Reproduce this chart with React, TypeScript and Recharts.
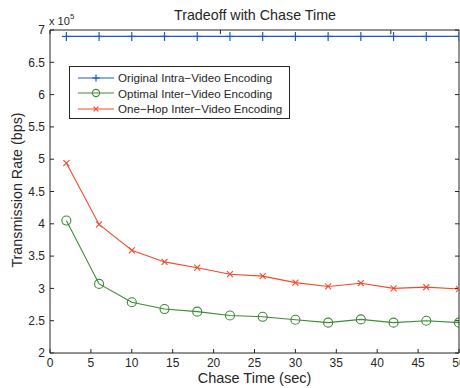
import { Label, Legend, Line, LineChart, XAxis, YAxis } from "recharts";

const chaseTimes = [2, 6, 10, 14, 18, 22, 26, 30, 34, 38, 42, 46, 50];
const intraRate = [690000, 690000, 690000, 690000, 690000, 690000, 690000, 690000, 690000, 690000, 690000, 690000, 690000];
const optimalRate = [405000, 307000, 278500, 268000, 264000, 258000, 256000, 251500, 247000, 252000, 247000, 250000, 247000];
const oneHopRate = [494000, 399000, 359000, 341000, 332000, 322000, 319000, 309000, 303000, 308000, 300000, 302000, 299000];

const xTicks = [0, 5, 10, 15, 20, 25, 30, 35, 40, 45, 50];
const yTicks = [200000, 250000, 300000, 350000, 400000, 450000, 500000, 550000, 600000, 650000, 700000];

const series = [
  { key: "intra", name: "Original Intra\u2212Video Encoding", color: "#1c5cb4", marker: "plus" },
  { key: "optimal", name: "Optimal Inter\u2212Video Encoding", color: "#3f8a36", marker: "circle" },
  { key: "oneHop", name: "One\u2212Hop Inter\u2212Video Encoding", color: "#f24a2c", marker: "cross" },
];

const data = chaseTimes.map((t, i) => ({ t, intra: intraRate[i], optimal: optimalRate[i], oneHop: oneHopRate[i] }));

const font = "'Liberation Sans', Arial, Helvetica, sans-serif";
const ink = "#262626";

function Marker({ cx, cy, type, color, size = 1 }: { cx: number; cy: number; type: string; color: string; size?: number }) {
  if (type === "plus") {
    const h = 4.5 * size;
    return (
      <g stroke={color} strokeWidth={1.2}>
        <line x1={cx} y1={cy - h} x2={cx} y2={cy + h} />
        <line x1={cx - h} y1={cy} x2={cx + h} y2={cy} />
      </g>
    );
  }
  if (type === "circle") return <circle cx={cx} cy={cy} r={4.5 * size} fill="none" stroke={color} strokeWidth={1.1} />;
  const h = 3 * size;
  return (
    <g stroke={color} strokeWidth={1.1}>
      <line x1={cx - h} y1={cy - h} x2={cx + h} y2={cy + h} />
      <line x1={cx - h} y1={cy + h} x2={cx + h} y2={cy - h} />
    </g>
  );
}

function LegendBox() {
  return (
    <div style={{ border: `1px solid ${ink}`, background: "#fff", boxSizing: "border-box", width: 221, height: 53, padding: "3px 0 0 7px", fontFamily: font, fontSize: 11.6, color: ink, whiteSpace: "nowrap" }}>
      {series.map((s) => (
        <div key={s.key} style={{ display: "flex", alignItems: "center", height: 15.5 }}>
          <svg width={38} height={12} style={{ marginRight: 3, flex: "none" }}>
            <line x1={1} y1={6} x2={37} y2={6} stroke={s.color} strokeWidth={1.1} />
            <Marker cx={19} cy={6} type={s.marker} color={s.color} size={0.8} />
          </svg>
          <span>{s.name}</span>
        </div>
      ))}
    </div>
  );
}

const tickStyle = { fontSize: 12, fill: ink, fontFamily: font };

export default function App() {
  return (
    <div style={{ position: "absolute", left: 0, top: 0, width: 460, height: 388, background: "#fff" }}>
      <LineChart width={460} height={388} data={data} margin={{ top: 29, right: 0, bottom: 0, left: 0 }} style={{ fontFamily: font }}>
        <XAxis dataKey="t" type="number" domain={[0, 50]} ticks={xTicks} interval={0} height={35} tickSize={-4} tickMargin={9}
          stroke={ink} tick={tickStyle} allowDataOverflow>
          <Label position="insideBottom" offset={5} value="Chase Time (sec)" style={{ fontSize: 14.5, fill: ink, fontFamily: font }} />
        </XAxis>
        <XAxis xAxisId="top" orientation="top" type="number" domain={[0, 50]} ticks={xTicks} interval={0} height={1} tickSize={-4}
          stroke={ink} tickFormatter={() => ""} allowDataOverflow>
          <Label content={() => (
            <g fontFamily={font} fill={ink}>
              <text x={255} y={20} textAnchor="middle" fontSize={14.3}>Tradeoff with Chase Time</text>
              <text x={49} y={25} fontSize={11}>x 10</text>
              <text x={70} y={19} fontSize={8}>5</text>
            </g>
          )} />
        </XAxis>
        <YAxis type="number" domain={[200000, 700000]} ticks={yTicks} interval={0} width={50} tickSize={-4} tickMargin={9}
          stroke={ink} tick={tickStyle} tickFormatter={(v) => String(Number(v) / 100000)} allowDataOverflow>
          <Label content={() => (
            <text x={22} y={190} transform="rotate(-90 22 190)" textAnchor="middle" fontSize={14.3} fill={ink} fontFamily={font}>
              Transmission Rate (bps)
            </text>
          )} />
        </YAxis>
        <YAxis yAxisId="right" orientation="right" type="number" domain={[200000, 700000]} ticks={yTicks} interval={0} width={1}
          tickSize={-4} stroke={ink} tickFormatter={() => ""} allowDataOverflow />
        {series.map((s) => (
          <Line key={s.key} dataKey={s.key} name={s.name} stroke={s.color} strokeWidth={s.marker === "plus" ? 1.3 : 1.1}
            isAnimationActive={false}
            dot={(p: any) => <Marker key={`${s.key}-${p.index}`} cx={p.cx} cy={p.cy} type={s.marker} color={s.color} />} />
        ))}
        <Legend layout="horizontal" verticalAlign="middle" align="center" content={() => <LegendBox />}
          wrapperStyle={{ left: 69, top: 66, width: 221, height: 53 }} />
      </LineChart>
    </div>
  );
}
